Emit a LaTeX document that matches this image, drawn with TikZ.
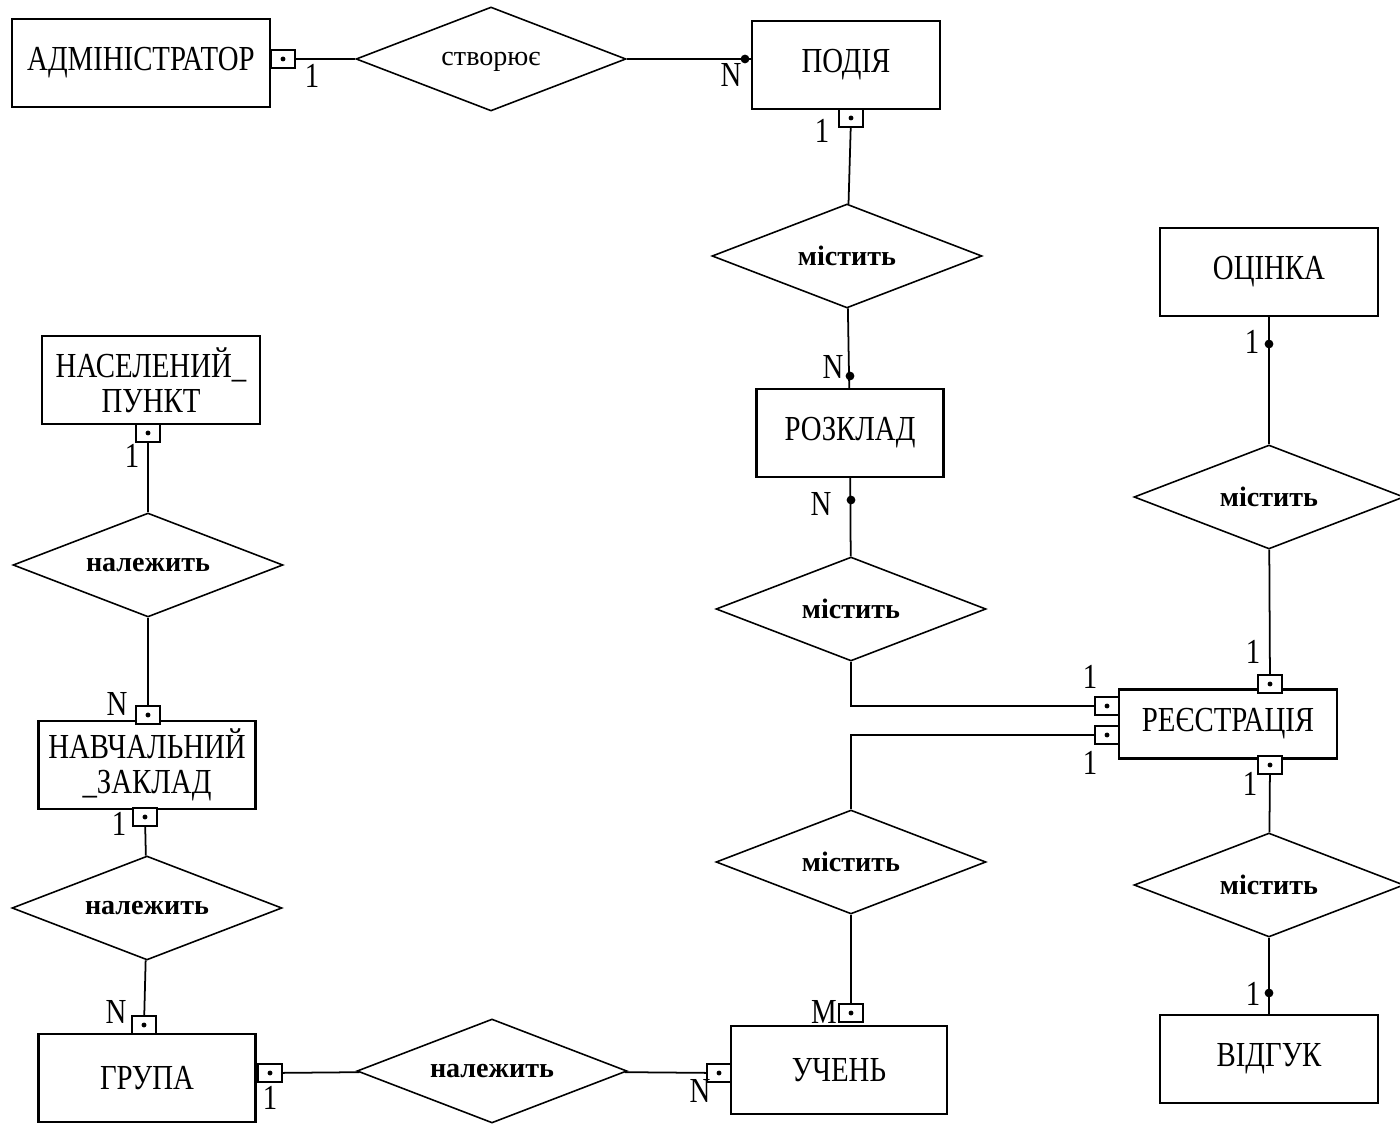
\documentclass[tikz,border=0pt]{standalone}
\usepackage{fontspec}
\setmainfont{Liberation Serif}
\newfontfamily\entfont{Liberation Serif}[FakeStretch=0.82]
\usetikzlibrary{shapes.geometric}

\begin{document}
\begin{tikzpicture}[x=0.02cm,y=-0.02cm]

      \useasboundingbox (0,0) rectangle (1400,1124);

      % entities
      \begin{scope}[every node/.style={rectangle,draw,line width=1.4pt,minimum width=4.36cm,minimum height=1.76cm,inner sep=1pt,align=center,font=\entfont\fontsize{20}{20}\selectfont}]
        \node[minimum width=5.16cm] (adm)     at (141,63)   {АДМІНІСТРАТОР};
        \node[minimum width=3.76cm] (podia)   at (846,65)   {ПОДІЯ};
        \node                       (ocinka)  at (1269,272) {ОЦІНКА};
        \node                       (punkt)   at (151,380)  {НАСЕЛЕНИЙ\_\\ПУНКТ};
        \node[minimum width=3.74cm] (rozklad) at (850,433)  {РОЗКЛАД};
        \node[minimum height=1.38cm] (reestr) at (1228,724) {РЕЄСТРАЦІЯ};
        \node[minimum width=4.34cm] (zaklad)  at (147,765)  {НАВЧАЛЬНИЙ\\\_ЗАКЛАД};
        \node[minimum width=4.34cm] (grupa)   at (147,1078) {ГРУПА};
        \node[minimum width=4.32cm] (uchen)   at (839,1070) {УЧЕНЬ};
        \node                       (vidguk)  at (1269,1059) {ВІДГУК};
      \end{scope}

      % relationships
      \begin{scope}[every node/.style={diamond,draw,line width=0.9pt,aspect=2.6,minimum width=5.4cm,minimum height=2.08cm,inner sep=0pt,text depth=0pt,font=\fontsize{16}{19}\selectfont\bfseries}]
        \node[font=\fontsize{16}{19}\selectfont] (stvor) at (491,59) {створює};
        \node (mist1)  at (847,256)  {містить};
        \node (mist2)  at (851,609)  {містить};
        \node (mist3)  at (851,862)  {містить};
        \node (mistR1) at (1269,497) {містить};
        \node (mistR2) at (1269,885) {містить};
        \node (nal1)   at (148,565)  {належить};
        \node (nal2)   at (147,908)  {належить};
        \node (nal3)   at (492,1071) {належить};
      \end{scope}

      % square ends
      \begin{scope}[every node/.style={rectangle,draw,fill=white,line width=1pt,minimum width=0.48cm,minimum height=0.36cm,inner sep=0pt}]
        \node (sA)  at (283,59)   {};
        \node (sP)  at (851,118)  {};
        \node (sN)  at (148,433)  {};
        \node (sZt) at (148,715)  {};
        \node (sZb) at (145,817)  {};
        \node (sGt) at (144,1025) {};
        \node (sGr) at (270,1073) {};
        \node (sUl) at (719,1073) {};
        \node (sUt) at (851,1013) {};
        \node (sR1) at (1107,706) {};
        \node (sR2) at (1107,735) {};
        \node (sRt) at (1270,684) {};
        \node (sRb) at (1270,765) {};
      \end{scope}
      \foreach \s in {sA,sP,sN,sZt,sZb,sGt,sGr,sUl,sUt,sR1,sR2,sRt,sRb}
        \fill (\s.center) circle (1.4pt);

      % dot ends
      \begin{scope}[every node/.style={circle,fill,inner sep=0pt,minimum size=5pt}]
        \node (dP)  at (745,59)   {};
        \node (dRt) at (850,376)  {};
        \node (dRb) at (851,500)  {};
        \node (dO)  at (1269,344) {};
        \node (dV)  at (1269,993) {};
      \end{scope}

      % cardinalities
      \begin{scope}[every node/.style={inner sep=0pt,font=\entfont\fontsize{20}{20}\selectfont}]
        \node (c1)  at (312,76)   {1};
        \node (c2)  at (731,75)   {N};
        \node (c3)  at (822,131)  {1};
        \node (c4)  at (833,367)  {N};
        \node (c5)  at (821,504)  {N};
        \node (c6)  at (1252,342) {1};
        \node (c7)  at (1253,652) {1};
        \node (c8)  at (1090,677) {1};
        \node (c9)  at (1090,763) {1};
        \node (c10) at (1250,784) {1};
        \node (c11) at (1253,994) {1};
        \node (c12) at (824,1012) {M};
        \node (c13) at (700,1091) {N};
        \node (c14) at (270,1098) {1};
        \node (c15) at (132,456)  {1};
        \node (c16) at (117,704)  {N};
        \node (c17) at (119,824)  {1};
        \node (c18) at (116,1012) {N};
      \end{scope}

      \begin{scope}[line width=1pt,every edge/.style={draw,line width=1pt}]
        \path (sA)     edge (stvor);
        \draw (stvor.east) -- (stvor.east -| podia.west);
        \path (sP)     edge (mist1);
        \path (mist1)  edge (rozklad);
        \path (rozklad) edge (mist2);
        \draw (mist2.south) |- (sR1.west);
        \draw (mist3.north) |- (sR2.west);
        \path (mist3)  edge (sUt);
        \path (ocinka) edge (mistR1);
        \path (mistR1) edge (sRt);
        \path (sRb)    edge (mistR2);
        \path (mistR2) edge (vidguk);
        \path (sN)     edge (nal1);
        \path (nal1)   edge (sZt);
        \path (sZb)    edge (nal2);
        \path (nal2)   edge (sGt);
        \path (sGr)    edge (nal3);
        \path (nal3)   edge (sUl);
      \end{scope}

    \end{tikzpicture}
\end{document}
